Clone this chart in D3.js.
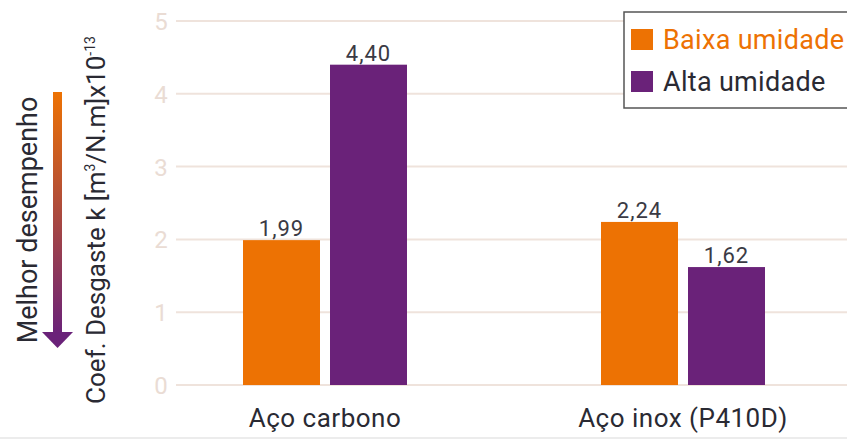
<!DOCTYPE html>
<html>
<head>
<meta charset="utf-8">
<script src="https://cdn.jsdelivr.net/npm/d3@7"></script>
<style>
  body { margin: 0; background: #fff; }
  svg text { font-family: "Roboto", "Noto Sans", sans-serif; }
</style>
</head>
<body>
<div id="container"></div>
<script>
var categories = ['Aço carbono', 'Aço inox (P410D)'];
var seriesNames = ['Baixa umidade', 'Alta umidade'];
var baixa = [1.99, 2.24];
var alta = [4.40, 1.62];
var yTicks = [0, 1, 2, 3, 4, 5];
var colors = ['#ed7203', '#6a2279'];

var width = 847,
    height = 441;

var svg = d3.select('#container')
    .append('svg')
    .attr('width', width)
    .attr('height', height);

var y = d3.scaleLinear()
    .domain([0, 5])
    .range([385, 21]);

var x0 = d3.scaleBand()
    .domain(categories)
    .range([146, 862]);

var x1 = d3.scaleBand()
    .domain(seriesNames)
    .range([x0.bandwidth() / 2 - 82, x0.bandwidth() / 2 + 82])
    .paddingInner(0.115);

// grid + tick labels
var grid = svg.append('g');
grid.selectAll('line')
    .data(yTicks)
    .enter()
    .append('line')
    .attr('x1', 176)
    .attr('x2', width)
    .attr('y1', function(d) { return y(d); })
    .attr('y2', function(d) { return y(d); })
    .attr('stroke', '#efe3dc')
    .attr('stroke-width', 2);
grid.selectAll('text')
    .data(yTicks)
    .enter()
    .append('text')
    .attr('x', 161)
    .attr('y', function(d) { return y(d) + 9; })
    .attr('text-anchor', 'middle')
    .attr('font-size', 24)
    .attr('fill', '#eadcd4')
    .text(function(d) { return d; });

// bars
var rows = categories.map(function(c, i) {
    return { cat: c, vals: [baixa[i], alta[i]] };
});
var groups = svg.selectAll('g.grp')
    .data(rows)
    .enter()
    .append('g')
    .attr('class', 'grp')
    .attr('transform', function(d) { return 'translate(' + x0(d.cat) + ',0)'; });

groups.selectAll('rect')
    .data(function(d) { return d.vals.map(function(v, j) { return { s: seriesNames[j], v: v, j: j }; }); })
    .enter()
    .append('rect')
    .attr('x', function(d) { return x1(d.s); })
    .attr('width', x1.bandwidth())
    .attr('y', function(d) { return y(d.v); })
    .attr('height', function(d) { return y(0) - y(d.v); })
    .attr('fill', function(d) { return colors[d.j]; });

groups.selectAll('text.val')
    .data(function(d) { return d.vals.map(function(v, j) { return { s: seriesNames[j], v: v }; }); })
    .enter()
    .append('text')
    .attr('class', 'val')
    .attr('x', function(d) { return x1(d.s) + x1.bandwidth() / 2; })
    .attr('y', function(d) { return y(d.v) - 4; })
    .attr('text-anchor', 'middle')
    .attr('font-size', 22)
    .attr('letter-spacing', 1)
    .attr('fill', '#3a3a44')
    .text(function(d) { return d3.format('.2f')(d.v).replace('.', ','); });

// category labels
svg.selectAll('text.cat')
    .data(categories)
    .enter()
    .append('text')
    .attr('class', 'cat')
    .attr('x', function(d) { return x0(d) + x0.bandwidth() / 2; })
    .attr('y', 427)
    .attr('text-anchor', 'middle')
    .attr('font-size', 26)
    .attr('letter-spacing', 0.5)
    .attr('fill', '#2a2a33')
    .text(function(d) { return d; });

// bottom rule
svg.append('line')
    .attr('x1', 0).attr('x2', width)
    .attr('y1', 438).attr('y2', 438)
    .attr('stroke', '#e6e6e6')
    .attr('stroke-width', 1.5);

// legend
var legend = svg.append('g');
legend.append('rect')
    .attr('x', 624).attr('y', 12)
    .attr('width', 240).attr('height', 96)
    .attr('fill', '#fff')
    .attr('stroke', '#555')
    .attr('stroke-width', 1.5);
var li = legend.selectAll('g')
    .data(seriesNames)
    .enter()
    .append('g')
    .attr('transform', function(d, i) { return 'translate(631,' + (29 + i * 42) + ')'; });
li.append('rect')
    .attr('width', 22).attr('height', 21)
    .attr('fill', function(d, i) { return colors[i]; });
li.append('text')
    .attr('x', 32).attr('y', 20)
    .attr('font-size', 27)
    .attr('letter-spacing', 0.3)
    .attr('fill', function(d, i) { return i === 0 ? colors[0] : '#2a2a33'; })
    .text(function(d) { return d; });

// axis titles
svg.append('text')
    .attr('transform', 'translate(37,220) rotate(-90)')
    .attr('text-anchor', 'middle')
    .attr('font-size', 27)
    .attr('fill', '#2a2a33')
    .text('Melhor desempenho');

var t = svg.append('text')
    .attr('transform', 'translate(105,220) rotate(-90)')
    .attr('text-anchor', 'middle')
    .attr('font-size', 26)
    .attr('fill', '#2a2a33');
t.append('tspan').text('Coef. Desgaste k [m');
t.append('tspan').attr('font-size', 14).attr('dy', -10).text('3');
t.append('tspan').attr('dy', 10).text('/N.m]x10');
t.append('tspan').attr('font-size', 14).attr('dy', -10).text('-13');

// gradient arrow
var defs = svg.append('defs');
var grad = defs.append('linearGradient')
    .attr('id', 'arrowGrad')
    .attr('x1', 0).attr('y1', 0).attr('x2', 0).attr('y2', 1);
grad.append('stop').attr('offset', '0%').attr('stop-color', colors[0]);
grad.append('stop').attr('offset', '100%').attr('stop-color', colors[1]);

svg.append('rect')
    .attr('x', 53).attr('y', 92)
    .attr('width', 9).attr('height', 242)
    .attr('fill', 'url(#arrowGrad)');
svg.append('path')
    .attr('d', 'M42,332 L73,332 L57.5,348 Z')
    .attr('fill', colors[1]);
</script>
</body>
</html>
